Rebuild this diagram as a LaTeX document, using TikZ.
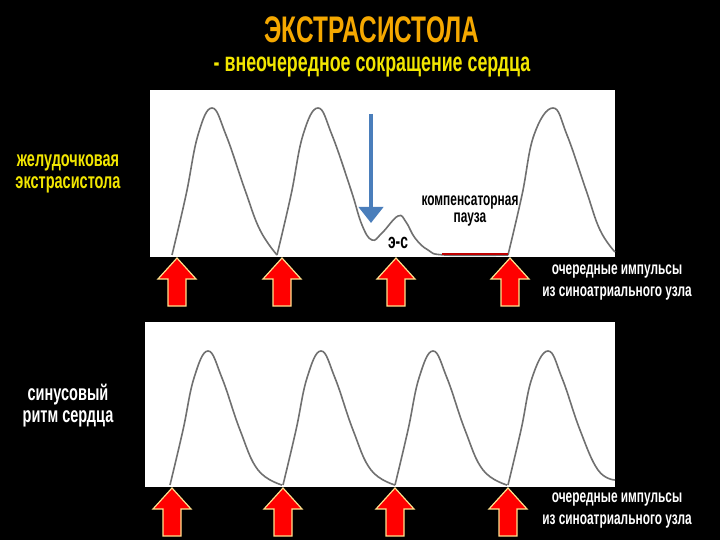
\documentclass[tikz,border=0pt]{standalone}
\usepackage{fontspec}
\setmainfont{Liberation Sans}[FakeStretch=0.66]
\usetikzlibrary{arrows.meta}
\definecolor{ttl}{HTML}{F5A800}
\definecolor{ylw}{HTML}{F2E600}
\definecolor{arrblue}{HTML}{4A7EBB}
\definecolor{wave}{HTML}{707070}
\newcommand\redup[2]{\fill[red,draw={rgb,255:red,255;green,225;blue,140},line width=1.2pt]
 (#1,#2) -- (#1+19,#2+21) -- (#1+9,#2+21) -- (#1+9,#2+48) -- (#1-9,#2+48) -- (#1-9,#2+21) -- (#1-19,#2+21) -- cycle;}
\begin{document}
\begin{tikzpicture}[x=1pt,y=-1pt,
  lbl/.style={font=\bfseries,align=center,inner sep=0pt},
  wv/.style={wave,line width=1.6pt}]
\useasboundingbox (0,0) rectangle (720,540);
\fill[black] (0,0) rectangle (720,540);
\node[lbl,ttl,font=\bfseries\fontsize{37}{40}\selectfont] (title) at (372,30) {ЭКСТРАСИСТОЛА};
\node[lbl,ylw,font=\bfseries\fontsize{27}{30}\selectfont] (sub) at (372,67) {- внеочередное сокращение сердца};
% panels
\fill[white] (150,90) rectangle (615,257);
\fill[white] (145,322) rectangle (615,487);
% top wave
\draw[wv] plot[smooth,tension=0.7] coordinates {(172,255)(186,195)(198,135)(212,108)(226,135)(245,190)(260,230)(277,255)};
\draw[wv] plot[smooth,tension=0.7] coordinates {(277,255)(291,195)(303,135)(318,108)(332,135)(351,190)(362,225)(372,240)(382,233)(398,216)(406,222)(415,238)(428,250)(445,255)(508,255)};
\draw[wv] plot[smooth,tension=0.7] coordinates {(508,255)(522,195)(534,135)(553,108)(567,135)(586,190)(600,230)(615,252)};
% bottom wave
\foreach \o in {0,113,225}{
\draw[wv,xshift=\o] plot[smooth,tension=0.7] coordinates {(170,485)(183,430)(194,378)(208,351)(222,378)(240,430)(258,470)(282,485)};}
\draw[wv] plot[smooth,tension=0.7] coordinates {(508,485)(521,430)(532,378)(548,351)(562,378)(580,430)(598,470)(615,480)};
% blue arrow
\coordinate (bs) at (371,114);
\coordinate (be) at (371,223);
\draw[arrblue,line width=4pt,-{Triangle[length=16pt,width=24pt]}] (bs) -- (be);
% red pause line
\coordinate (p1) at (442,254);
\coordinate (p2) at (508,254);
\draw[red!75!black,line width=2.5pt] (p1) -- (p2);
\node[lbl,black,font=\bfseries\fontsize{18}{17}\selectfont] (comp) at (470,211) {компенсаторная\\пауза};
\node[lbl,black,font=\bfseries\fontsize{21}{15}\selectfont] (es) at (398,243) {э-с};
% arrows
\redup{177}{258}\redup{282}{258}\redup{396}{258}\redup{510}{258}
\redup{172}{488}\redup{283}{488}\redup{395}{488}\redup{508}{488}
% labels
\node[lbl,ylw,font=\bfseries\fontsize{22}{22}\selectfont] (vent) at (68,174) {желудочковая\\экстрасистола};
\node[lbl,white,font=\bfseries\fontsize{22}{22}\selectfont] (sin) at (68,406) {синусовый\\ритм сердца};
\node[lbl,white,font=\bfseries\fontsize{18}{22}\selectfont] (imp1) at (617,283) {очередные импульсы\\из синоатриального узла};
\node[lbl,white,font=\bfseries\fontsize{18}{22}\selectfont] (imp2) at (617,511) {очередные импульсы\\из синоатриального узла};
\end{tikzpicture}
\end{document}
